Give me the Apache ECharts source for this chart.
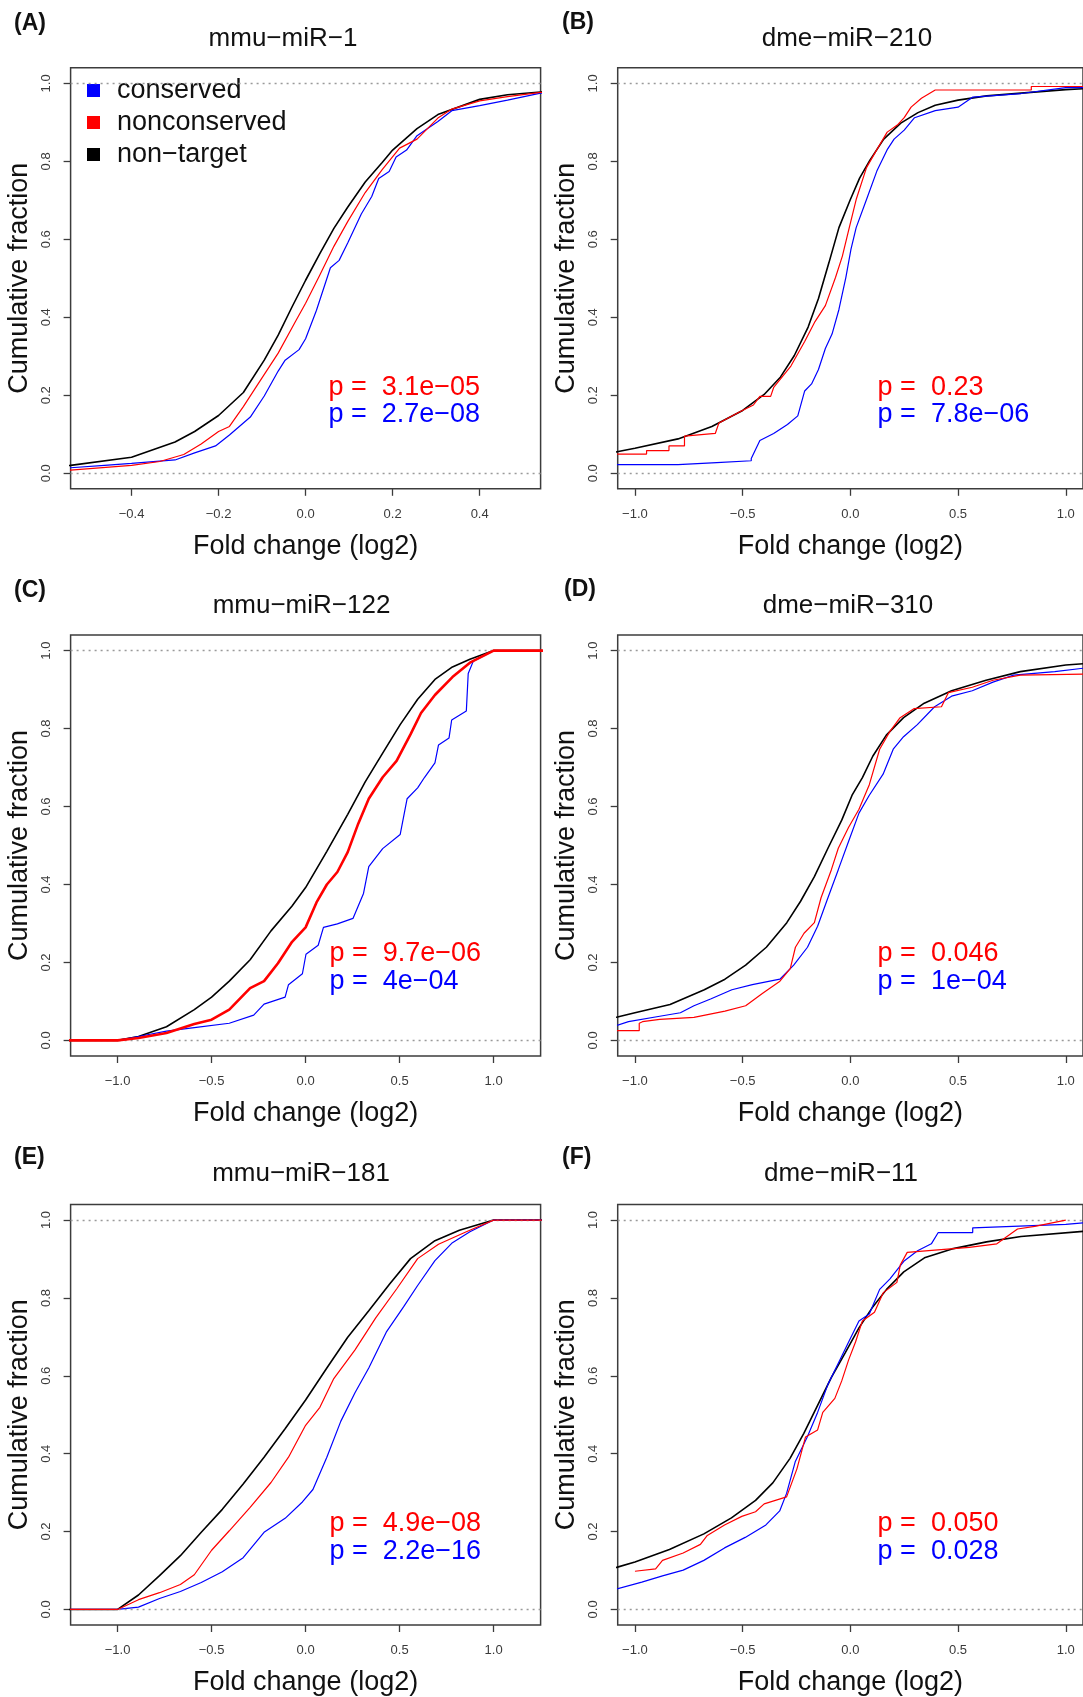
<!DOCTYPE html>
<html>
<head>
<meta charset="utf-8">
<script src="https://cdn.jsdelivr.net/npm/echarts@6/dist/echarts.min.js"></script>
<style>html,body{margin:0;padding:0;background:#fff}#main{width:1083px;height:1697px}</style>
</head>
<body>
<div id="main"></div>
<script>
// ---------- data ----------
const panelLabels = ['(A)', '(B)', '(C)', '(D)', '(E)', '(F)'];
const panelTitles = ['mmu\u2212miR\u22121', 'dme\u2212miR\u2212210', 'mmu\u2212miR\u2212122', 'dme\u2212miR\u2212310', 'mmu\u2212miR\u2212181', 'dme\u2212miR\u221211'];
const seriesNames = ['conserved', 'nonconserved', 'non\u2212target'];
const pNonconserved = ['3.1e\u221205', '0.23', '9.7e\u221206', '0.046', '4.9e\u221208', '0.050'];
const pConserved = ['2.7e\u221208', '7.8e\u221206', '4e\u221204', '1e\u221204', '2.2e\u221216', '0.028'];
const xTicksA = [-0.4, -0.2, 0, 0.2, 0.4];
const xTicksWide = [-1, -0.5, 0, 0.5, 1];
const yTicks = [0, 0.2, 0.4, 0.6, 0.8, 1];
const xRanges = [[-0.54, 0.54], [-1.08, 1.08], [-1.25, 1.25], [-1.08, 1.08], [-1.25, 1.25], [-1.08, 1.08]];

// panel A  mmu-miR-1
const A_nontarget = [[-0.6,0.015],[-0.54,0.02],[-0.4,0.041],[-0.3,0.08],[-0.255,0.107],[-0.2,0.148],[-0.143,0.207],[-0.095,0.29],[-0.063,0.354],[-0.031,0.427],[0,0.495],[0.033,0.564],[0.065,0.628],[0.097,0.683],[0.137,0.747],[0.176,0.797],[0.2,0.829],[0.256,0.884],[0.304,0.92],[0.4,0.959],[0.464,0.971],[0.54,0.978],[0.6,0.982]];
const A_nonconserved = [[-0.6,0.006],[-0.54,0.008],[-0.4,0.02],[-0.335,0.03],[-0.28,0.048],[-0.24,0.075],[-0.2,0.107],[-0.175,0.12],[-0.143,0.171],[-0.111,0.226],[-0.063,0.308],[-0.023,0.39],[0,0.436],[0.033,0.509],[0.065,0.582],[0.097,0.646],[0.137,0.72],[0.176,0.779],[0.216,0.834],[0.256,0.857],[0.304,0.911],[0.336,0.934],[0.4,0.955],[0.464,0.966],[0.54,0.977],[0.6,0.98]];
const A_conserved = [[-0.6,0.012],[-0.54,0.014],[-0.462,0.02],[-0.4,0.025],[-0.3,0.034],[-0.255,0.052],[-0.207,0.07],[-0.175,0.098],[-0.127,0.144],[-0.095,0.198],[-0.063,0.262],[-0.047,0.29],[-0.015,0.317],[0,0.345],[0.025,0.418],[0.057,0.527],[0.077,0.546],[0.097,0.591],[0.128,0.665],[0.152,0.71],[0.168,0.756],[0.192,0.774],[0.208,0.811],[0.232,0.829],[0.256,0.866],[0.304,0.902],[0.336,0.93],[0.4,0.943],[0.464,0.957],[0.54,0.975],[0.6,0.978]];

// panel B  dme-miR-210
const B_nontarget = [[-1.1,0.053],[-1.083,0.055],[-1.0,0.064],[-0.8,0.088],[-0.643,0.12],[-0.5,0.161],[-0.4,0.202],[-0.324,0.247],[-0.26,0.302],[-0.196,0.375],[-0.148,0.448],[-0.1,0.539],[-0.053,0.63],[0,0.702],[0.043,0.757],[0.091,0.803],[0.155,0.857],[0.234,0.898],[0.314,0.925],[0.394,0.944],[0.5,0.957],[0.633,0.968],[0.793,0.975],[1.0,0.984],[1.1,0.987]];
const B_nonconserved = [[-1.1,0.049],[-0.946,0.049],[-0.946,0.058],[-0.842,0.058],[-0.842,0.07],[-0.77,0.07],[-0.77,0.095],[-0.627,0.102],[-0.61,0.129],[-0.515,0.157],[-0.45,0.175],[-0.42,0.197],[-0.37,0.197],[-0.356,0.22],[-0.276,0.275],[-0.212,0.338],[-0.164,0.389],[-0.116,0.43],[-0.069,0.502],[-0.037,0.557],[-0.005,0.63],[0.027,0.702],[0.075,0.784],[0.123,0.83],[0.171,0.875],[0.218,0.893],[0.25,0.912],[0.282,0.939],[0.33,0.962],[0.394,0.983],[0.84,0.983],[0.84,0.992],[1.1,0.992]];
const B_conserved = [[-1.1,0.022],[-0.8,0.022],[-0.8,0.027],[-0.62,0.027],[-0.62,0.032],[-0.46,0.032],[-0.46,0.038],[-0.42,0.084],[-0.356,0.102],[-0.292,0.125],[-0.244,0.147],[-0.212,0.211],[-0.18,0.229],[-0.148,0.266],[-0.116,0.32],[-0.085,0.357],[-0.053,0.42],[-0.021,0.502],[0.003,0.575],[0.027,0.63],[0.075,0.702],[0.123,0.775],[0.171,0.83],[0.203,0.857],[0.25,0.88],[0.298,0.912],[0.394,0.93],[0.5,0.939],[0.569,0.965],[0.793,0.974],[1.0,0.989],[1.1,0.989]];

// panel C  mmu-miR-122
const C_nontarget = [[-1.3,0],[-1.0,0],[-0.889,0.01],[-0.74,0.035],[-0.592,0.079],[-0.5,0.111],[-0.406,0.152],[-0.295,0.207],[-0.184,0.281],[-0.072,0.345],[0,0.392],[0.113,0.485],[0.224,0.58],[0.317,0.663],[0.41,0.737],[0.503,0.81],[0.596,0.875],[0.688,0.926],[0.781,0.958],[0.874,0.978],[1.0,1.0],[1.3,1.0]];
const C_nonconserved = [[-1.3,0],[-1.0,0],[-0.889,0.006],[-0.74,0.019],[-0.592,0.042],[-0.5,0.053],[-0.406,0.079],[-0.295,0.134],[-0.221,0.152],[-0.147,0.198],[-0.072,0.253],[0,0.29],[0.058,0.354],[0.113,0.4],[0.169,0.432],[0.224,0.483],[0.28,0.556],[0.336,0.62],[0.41,0.675],[0.484,0.717],[0.558,0.785],[0.614,0.84],[0.688,0.886],[0.781,0.932],[0.874,0.969],[1.0,1.0],[1.3,1.0]];
const C_conserved = [[-1.3,0],[-1.0,0],[-0.889,0.01],[-0.74,0.024],[-0.592,0.033],[-0.406,0.044],[-0.276,0.065],[-0.221,0.093],[-0.109,0.111],[-0.091,0.143],[-0.017,0.171],[0.002,0.221],[0.067,0.244],[0.095,0.29],[0.169,0.299],[0.252,0.313],[0.308,0.377],[0.336,0.446],[0.41,0.492],[0.503,0.528],[0.54,0.62],[0.596,0.648],[0.633,0.675],[0.688,0.712],[0.707,0.758],[0.763,0.776],[0.777,0.822],[0.855,0.845],[0.865,0.941],[0.892,0.973],[1.0,1.0],[1.3,1.0]];

// panel D  dme-miR-310
const D_nontarget = [[-1.1,0.058],[-1.081,0.06],[-1.0,0.071],[-0.837,0.092],[-0.678,0.13],[-0.582,0.157],[-0.486,0.193],[-0.39,0.239],[-0.295,0.302],[-0.231,0.357],[-0.167,0.42],[-0.104,0.493],[-0.04,0.565],[0.008,0.629],[0.056,0.674],[0.104,0.729],[0.167,0.783],[0.247,0.828],[0.343,0.865],[0.47,0.897],[0.63,0.924],[0.789,0.946],[1.0,0.963],[1.1,0.967]];
const D_nonconserved = [[-1.1,0.025],[-0.98,0.025],[-0.98,0.044],[-0.965,0.048],[-0.885,0.054],[-0.726,0.059],[-0.582,0.075],[-0.486,0.089],[-0.407,0.121],[-0.327,0.152],[-0.279,0.184],[-0.255,0.239],[-0.215,0.275],[-0.167,0.302],[-0.136,0.366],[-0.088,0.438],[-0.056,0.493],[-0.008,0.547],[0.04,0.593],[0.088,0.656],[0.136,0.747],[0.183,0.792],[0.231,0.828],[0.295,0.851],[0.423,0.856],[0.455,0.892],[0.566,0.906],[0.662,0.924],[0.789,0.937],[1.1,0.94]];
const D_conserved = [[-1.1,0.036],[-1.03,0.048],[-0.885,0.062],[-0.789,0.071],[-0.726,0.089],[-0.646,0.107],[-0.55,0.13],[-0.455,0.143],[-0.327,0.157],[-0.263,0.193],[-0.199,0.239],[-0.152,0.293],[-0.104,0.366],[-0.056,0.438],[-0.008,0.511],[0.04,0.583],[0.088,0.629],[0.152,0.683],[0.199,0.747],[0.247,0.779],[0.311,0.81],[0.391,0.856],[0.47,0.883],[0.566,0.897],[0.662,0.919],[0.758,0.937],[0.949,0.946],[1.1,0.956]];

// panel E  mmu-miR-181
const E_nontarget = [[-1.3,0],[-1.0,0],[-0.889,0.037],[-0.777,0.087],[-0.666,0.138],[-0.555,0.198],[-0.443,0.257],[-0.332,0.322],[-0.221,0.391],[-0.109,0.464],[0,0.538],[0.113,0.62],[0.224,0.699],[0.336,0.767],[0.447,0.836],[0.558,0.901],[0.688,0.947],[0.818,0.974],[1.0,1.0],[1.3,1.0]];
const E_nonconserved = [[-1.3,0],[-1.0,0],[-0.889,0.025],[-0.777,0.043],[-0.666,0.064],[-0.592,0.089],[-0.5,0.152],[-0.406,0.202],[-0.295,0.262],[-0.184,0.326],[-0.091,0.391],[0,0.473],[0.076,0.519],[0.15,0.593],[0.262,0.666],[0.373,0.749],[0.484,0.823],[0.596,0.901],[0.707,0.938],[0.855,0.97],[1.0,1.0],[1.3,1.0]];
const E_conserved = [[-1.3,0],[-1.0,0],[-0.889,0.006],[-0.777,0.028],[-0.666,0.046],[-0.555,0.069],[-0.443,0.097],[-0.332,0.133],[-0.221,0.198],[-0.109,0.234],[-0.017,0.276],[0.039,0.308],[0.113,0.391],[0.187,0.483],[0.262,0.556],[0.336,0.62],[0.429,0.712],[0.521,0.777],[0.596,0.832],[0.688,0.896],[0.781,0.942],[0.874,0.97],[1.0,1.0],[1.3,1.0]];

// panel F  dme-miR-11
const F_nontarget = [[-1.1,0.106],[-1.085,0.108],[-1.0,0.122],[-0.84,0.154],[-0.68,0.194],[-0.552,0.235],[-0.44,0.28],[-0.36,0.325],[-0.28,0.388],[-0.216,0.452],[-0.152,0.524],[-0.088,0.596],[-0.024,0.659],[0.04,0.723],[0.104,0.777],[0.168,0.822],[0.248,0.867],[0.344,0.903],[0.472,0.926],[0.632,0.944],[0.792,0.958],[1.1,0.972]];
const F_nonconserved = [[-1.0,0.098],[-0.904,0.104],[-0.872,0.126],[-0.776,0.145],[-0.696,0.167],[-0.664,0.19],[-0.584,0.217],[-0.504,0.239],[-0.44,0.251],[-0.4,0.271],[-0.296,0.289],[-0.248,0.361],[-0.208,0.443],[-0.152,0.461],[-0.128,0.506],[-0.072,0.542],[-0.04,0.587],[-0.008,0.641],[0.024,0.687],[0.056,0.741],[0.112,0.763],[0.152,0.813],[0.216,0.84],[0.232,0.885],[0.264,0.917],[0.392,0.923],[0.552,0.93],[0.68,0.939],[0.776,0.977],[0.856,0.984],[1.0,1.0]];
const F_conserved = [[-1.1,0.05],[-0.968,0.07],[-0.872,0.086],[-0.776,0.101],[-0.68,0.126],[-0.584,0.158],[-0.488,0.185],[-0.392,0.217],[-0.328,0.253],[-0.296,0.298],[-0.256,0.379],[-0.2,0.443],[-0.152,0.506],[-0.104,0.578],[-0.056,0.632],[-0.008,0.687],[0.04,0.741],[0.088,0.759],[0.136,0.822],[0.184,0.849],[0.248,0.894],[0.312,0.921],[0.376,0.939],[0.408,0.968],[0.568,0.968],[0.568,0.98],[1.0,0.989],[1.1,0.994]];

const panelData = [
  [A_conserved, A_nonconserved, A_nontarget],
  [B_conserved, B_nonconserved, B_nontarget],
  [C_conserved, C_nonconserved, C_nontarget],
  [D_conserved, D_nonconserved, D_nontarget],
  [E_conserved, E_nonconserved, E_nontarget],
  [F_conserved, F_nonconserved, F_nontarget]
];

// ---------- layout / style ----------
const FONT = '"Liberation Sans", Arial, Helvetica, sans-serif';
const colors = ['#0000ff', '#ff0000', '#000000'];
const colLeft = [70.6, 617.7];
const rowTop = [67.8, 635, 1204.5];
const gridW = 470, gridH = 421;
const titlePos = [[283, 39], [847, 39], [301.5, 606], [848, 606], [301, 1174], [841, 1174]];
const labelPos = [[14, 24], [562, 23], [14, 591], [564, 590], [14, 1158], [562, 1158]];
const pPos = [[328.5, 387.5], [877.6, 387.5], [329.5, 954], [877.6, 954], [329.5, 1524], [877.6, 1524]];

const fmt = v => (v < 0 ? '\u2212' : '') + Math.abs(v).toFixed(1);

const grids = [], xAxes = [], yAxes = [], series = [], graphics = [];
for (let i = 0; i < 6; i++) {
  const col = i % 2, row = Math.floor(i / 2);
  grids.push({
    left: colLeft[col], top: rowTop[row], width: gridW, height: gridH,
    show: true, borderColor: '#3c3c3c', borderWidth: 1.5, backgroundColor: 'transparent'
  });
  const xt = i === 0 ? xTicksA : xTicksWide;
  xAxes.push({
    type: 'value', gridIndex: i, min: xRanges[i][0], max: xRanges[i][1], position: 'bottom',
    axisLine: { show: false, onZero: false },
    axisTick: { show: true, inside: false, length: 7, customValues: xt, lineStyle: { color: '#3c3c3c', width: 1.3 } },
    axisLabel: { customValues: xt, formatter: fmt, margin: 19, color: '#3a3a3a', fontSize: 13, fontFamily: FONT },
    splitLine: { show: false },
    name: 'Fold change (log2)', nameLocation: 'middle', nameGap: 44,
    nameTextStyle: { fontSize: 27, color: '#111', fontFamily: FONT }
  });
  yAxes.push({
    type: 'value', gridIndex: i, min: -0.04, max: 1.04, position: 'left',
    axisLine: { show: false, onZero: false },
    axisTick: { show: true, inside: false, length: 7, customValues: yTicks, lineStyle: { color: '#3c3c3c', width: 1.3 } },
    axisLabel: { customValues: yTicks, formatter: v => v.toFixed(1), rotate: 90, margin: 18, color: '#3a3a3a', fontSize: 13, fontFamily: FONT },
    splitLine: { show: false },
    name: 'Cumulative fraction', nameLocation: 'middle', nameGap: 38, nameRotate: 90,
    nameTextStyle: { fontSize: 27, color: '#111', fontFamily: FONT }
  });
  // draw order: non-target, conserved, nonconserved
  [2, 0, 1].forEach((k, idx) => {
    const s = {
      name: seriesNames[k], type: 'line', xAxisIndex: i, yAxisIndex: i,
      data: panelData[i][k], showSymbol: false, symbol: 'none', silent: true,
      color: colors[k], itemStyle: { color: colors[k] },
      lineStyle: { color: colors[k], width: k === 2 ? 1.6 : (i === 2 && k === 1 ? 2.6 : 1.2) },
      z: 3 + idx
    };
    if (idx === 0) {
      s.markLine = {
        silent: true, symbol: 'none', label: { show: false },
        lineStyle: { color: '#9a9a9a', type: [2, 4], width: 1.3 },
        data: [{ yAxis: 0 }, { yAxis: 1 }]
      };
    }
    series.push(s);
  });
  graphics.push({ type: 'text', x: titlePos[i][0], y: titlePos[i][1],
    style: { text: panelTitles[i], font: '26px ' + FONT, fill: '#111', align: 'center', verticalAlign: 'middle' } });
  graphics.push({ type: 'text', x: labelPos[i][0], y: labelPos[i][1],
    style: { text: panelLabels[i], font: 'bold 23px ' + FONT, fill: '#111', align: 'left', verticalAlign: 'middle' } });
  graphics.push({ type: 'text', x: pPos[i][0], y: pPos[i][1],
    style: { text: 'p =  ' + pNonconserved[i], font: '27px ' + FONT, fill: '#ff0000', align: 'left', verticalAlign: 'middle' } });
  graphics.push({ type: 'text', x: pPos[i][0], y: pPos[i][1] + 27.5,
    style: { text: 'p =  ' + pConserved[i], font: '27px ' + FONT, fill: '#0000ff', align: 'left', verticalAlign: 'middle' } });
}

const chart = echarts.init(document.getElementById('main'), null, { renderer: 'canvas' });
chart.setOption({
  animation: false,
  backgroundColor: '#ffffff',
  grid: grids, xAxis: xAxes, yAxis: yAxes, series: series,
  legend: {
    data: seriesNames, orient: 'vertical', left: 87, top: 74.5, icon: 'rect',
    itemWidth: 13, itemHeight: 13, itemGap: 0, padding: 0, selectedMode: false,
    textStyle: { fontSize: 27, lineHeight: 32, color: '#111', fontFamily: FONT, padding: [0, 0, 0, 12] }
  },
  graphic: graphics
});
</script>
</body>
</html>
